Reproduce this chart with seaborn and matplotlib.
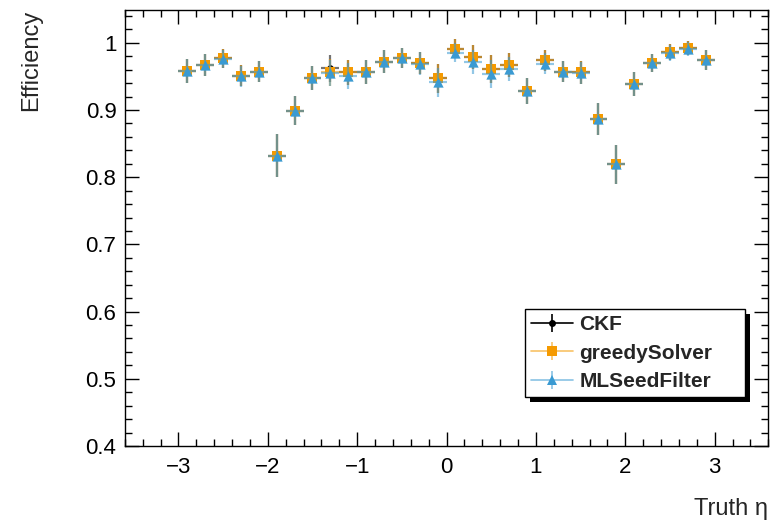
import numpy as np
import pandas as pd
import matplotlib
matplotlib.use("Agg")
import matplotlib.pyplot as plt
from matplotlib.lines import Line2D
from matplotlib.patches import Rectangle
from matplotlib.legend_handler import HandlerTuple
import seaborn as sns

eta = [-2.9, -2.7, -2.5, -2.3, -2.1, -1.9, -1.7, -1.5, -1.3, -1.1,
       -0.9, -0.7, -0.5, -0.3, -0.1, 0.1, 0.3, 0.5, 0.7, 0.9,
       1.1, 1.3, 1.5, 1.7, 1.9, 2.1, 2.3, 2.5, 2.7, 2.9]
eta_halfwidth = 0.1

ckf = [0.958, 0.967, 0.977, 0.951, 0.957, 0.832, 0.899, 0.948, 0.962, 0.956,
       0.956, 0.972, 0.977, 0.970, 0.947, 0.991, 0.979, 0.961, 0.967, 0.928,
       0.974, 0.957, 0.956, 0.887, 0.819, 0.939, 0.970, 0.986, 0.992, 0.975]
greedy = [0.958, 0.967, 0.977, 0.951, 0.957, 0.832, 0.899, 0.948, 0.956, 0.956,
          0.956, 0.972, 0.977, 0.970, 0.947, 0.991, 0.979, 0.961, 0.967, 0.928,
          0.974, 0.957, 0.956, 0.887, 0.819, 0.939, 0.970, 0.986, 0.992, 0.975]
mlseed = [0.958, 0.967, 0.976, 0.950, 0.957, 0.832, 0.899, 0.948, 0.955, 0.951,
          0.956, 0.972, 0.977, 0.969, 0.941, 0.985, 0.972, 0.954, 0.961, 0.928,
          0.969, 0.957, 0.955, 0.887, 0.819, 0.939, 0.970, 0.985, 0.991, 0.974]
errors = [0.018, 0.016, 0.014, 0.016, 0.016, 0.032, 0.022, 0.018, 0.020, 0.019,
          0.018, 0.017, 0.015, 0.017, 0.022, 0.014, 0.018, 0.021, 0.018, 0.019,
          0.016, 0.016, 0.017, 0.024, 0.029, 0.018, 0.014, 0.012, 0.010, 0.015]

algorithms = ["CKF", "greedySolver", "MLSeedFilter"]
colors = {"CKF": "#000000", "greedySolver": "#F59A00", "MLSeedFilter": "#3A9AD2"}
markers = {"CKF": "o", "greedySolver": "s", "MLSeedFilter": "^"}
sizes = {"CKF": 22, "greedySolver": 55, "MLSeedFilter": 55}
values = {"CKF": ckf, "greedySolver": greedy, "MLSeedFilter": mlseed}

df = pd.concat([
    pd.DataFrame({"eta": eta, "eff": values[a], "err": errors, "algo": a})
    for a in algorithms
], ignore_index=True)

sns.set_theme(style="ticks")
plt.rcParams["font.family"] = ["Liberation Sans", "DejaVu Sans"]

fig = plt.figure(figsize=(7.8, 5.21), dpi=100)
ax = fig.add_axes([0.160, 0.144, 0.825, 0.837])

for i, a in enumerate(algorithms):
    sub = df[df["algo"] == a]
    ax.errorbar(sub["eta"], sub["eff"], xerr=eta_halfwidth, yerr=sub["err"],
                fmt="none", ecolor=colors[a], elinewidth=1.6, alpha=0.55,
                capsize=0, zorder=2 + i)
    sns.scatterplot(data=sub, x="eta", y="eff", color=colors[a],
                    marker=markers[a], s=sizes[a], linewidth=0,
                    ax=ax, legend=False, zorder=3 + i)

ax.set_xlim(-3.6, 3.6)
ax.set_ylim(0.4, 1.049)
ax.set_xticks([-3, -2, -1, 0, 1, 2, 3])
ax.set_xticks(np.arange(-3.6, 3.61, 0.2), minor=True)
yt = [0.4, 0.5, 0.6, 0.7, 0.8, 0.9, 1.0]
ax.set_yticks(yt)
ax.set_yticklabels(["0.4", "0.5", "0.6", "0.7", "0.8", "0.9", "1"])
ax.set_yticks(np.arange(0.4, 1.049, 0.02), minor=True)

ax.tick_params(which="both", direction="in", top=True, right=True,
               labelsize=16, colors="black", width=1)
ax.tick_params(which="major", length=10)
ax.tick_params(which="minor", length=5)
ax.tick_params(axis="x", which="major", pad=8)
ax.tick_params(axis="y", which="major", pad=6)
for s in ax.spines.values():
    s.set_linewidth(1)
    s.set_color("black")

ax.set_xlabel("Truth η", loc="right", fontsize=17, labelpad=14)
ax.set_ylabel("Efficiency", loc="top", fontsize=17, labelpad=31)

handles = []
for a in algorithms:
    line = Line2D([], [], color=colors[a], lw=1.2,
                  alpha=1.0 if a == "CKF" else 0.6)
    vbar = Line2D([], [], color=colors[a], marker="|", lw=0, markersize=13,
                  markeredgewidth=1.2, alpha=1.0 if a == "CKF" else 0.6)
    mk = Line2D([], [], color=colors[a], marker=markers[a], lw=0,
                markersize=5 if a == "CKF" else 7.5, markeredgewidth=0)
    handles.append((line, vbar, mk))

leg = ax.legend(handles, algorithms, handler_map={tuple: HandlerTuple(ndivide=1, pad=0)},
                loc="lower left", bbox_to_anchor=(0.622, 0.112, 0.342, 0.19),
                mode="expand", borderaxespad=0, fancybox=False, framealpha=1,
                edgecolor="black", prop={"weight": "bold", "size": 15},
                handlelength=2.0, handletextpad=0.3, labelspacing=0.45,
                borderpad=0.3)
leg.get_frame().set_linewidth(1)
leg.set_zorder(10)

fig.canvas.draw()
bb = leg.get_window_extent()
shadow = Rectangle((bb.x0 + 5, bb.y0 - 5), bb.width, bb.height, transform=None,
                   facecolor="black", edgecolor="none", zorder=9)
ax.add_artist(shadow)

fig.savefig("out.png", dpi=100)
